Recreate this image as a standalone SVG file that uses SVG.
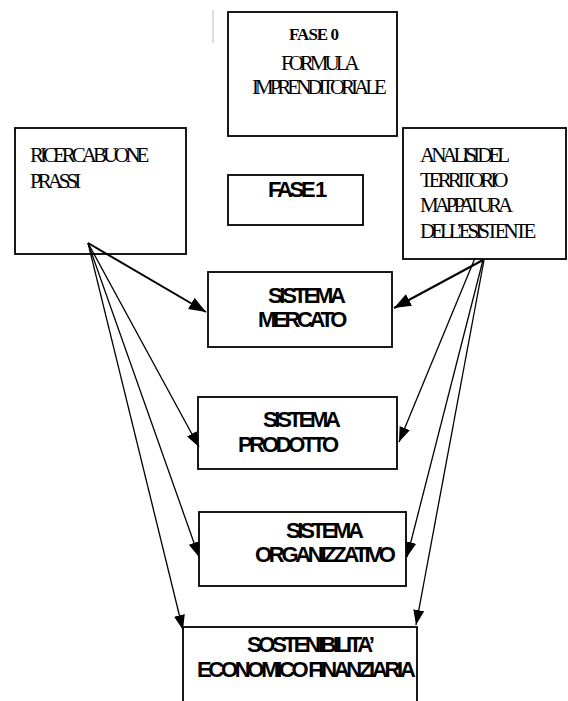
<svg xmlns="http://www.w3.org/2000/svg" width="568" height="701" viewBox="0 0 568 701">
<style>
.box{fill:#fff;stroke:#000;stroke-width:1.8}
.ser{font-family:"Liberation Serif","Times New Roman",serif;font-size:21px;fill:#000;letter-spacing:-4px}
.serb{font-family:"Liberation Serif","Times New Roman",serif;font-size:17px;font-weight:bold;fill:#000;letter-spacing:-1px}
.sans{font-family:"Liberation Sans",Arial,sans-serif;font-size:22px;font-weight:bold;fill:#000;letter-spacing:-3.3px}
.ln{fill:none;stroke:#000;stroke-width:1.3}
.lnb{fill:none;stroke:#000;stroke-width:2}
</style>
<defs>
<marker id="ah" viewBox="0 0 15 11" refX="15" refY="5.5" markerWidth="15" markerHeight="11" markerUnits="userSpaceOnUse" orient="auto">
<path d="M0,0 L15,5.5 L0,11 z" fill="#000"/>
</marker>
<marker id="ahb" viewBox="0 0 17 13" refX="17" refY="6.5" markerWidth="17" markerHeight="13" markerUnits="userSpaceOnUse" orient="auto">
<path d="M0,0 L17,6.5 L0,13 z" fill="#000"/>
</marker>
</defs>
<rect x="212" y="10" width="2" height="33" fill="#ddd"/>
<g id="fase0">
<rect class="box" x="228" y="12" width="169" height="124"/>
<text class="serb" x="289" y="40">FASE 0</text>
<text class="ser" x="281" y="70" letter-spacing="-4.4">FORMULA</text>
<text class="ser" x="252" y="94" letter-spacing="-4.35">IMPRENDITORIALE</text>
</g>
<g id="ricerca">
<rect class="box" x="15" y="128" width="171" height="126"/>
<text class="ser" x="30" y="162" letter-spacing="-4.1">RICERCA BUONE</text>
<text class="ser" x="30" y="188">PRASSI</text>
</g>
<g id="analisi">
<rect class="box" x="403" y="128" width="163" height="131"/>
<text class="ser" x="420" y="162" letter-spacing="-3.9">ANALISI DEL</text>
<text class="ser" x="420" y="187" letter-spacing="-3.9">TERRITORIO</text>
<text class="ser" x="420" y="212" letter-spacing="-4.6">MAPPATURA</text>
<text class="ser" x="420" y="238">DELL’ESISTENTE</text>
</g>
<g id="fase1">
<rect class="box" x="228" y="175" width="135" height="50"/>
<text class="sans" x="268" y="197" font-size="20" letter-spacing="-3.5">FASE 1</text>
</g>
<g id="mercato">
<rect class="box" x="208" y="272" width="184" height="75"/>
<text class="sans" x="268" y="303" letter-spacing="-3">SISTEMA</text>
<text class="sans" x="258" y="327" letter-spacing="-3.5">MERCATO</text>
</g>
<g id="prodotto">
<rect class="box" x="198" y="397" width="199" height="72"/>
<text class="sans" x="263" y="427" letter-spacing="-3">SISTEMA</text>
<text class="sans" x="238" y="452" letter-spacing="-3.5">PRODOTTO</text>
</g>
<g id="organizzativo">
<rect class="box" x="199" y="512" width="207" height="74"/>
<text class="sans" x="286" y="538" letter-spacing="-3">SISTEMA</text>
<text class="sans" x="255" y="562" letter-spacing="-3.5">ORGANIZZATIVO</text>
</g>
<g id="sostenibilita">
<rect class="box" x="183" y="627" width="234" height="90"/>
<text class="sans" x="247" y="652" letter-spacing="-3.1">SOSTENIBILITA’</text>
<text class="sans" x="197" y="677" letter-spacing="-3.2">ECONOMICO FINANZIARIA</text>
</g>
<g id="connectors">
<line class="lnb" x1="88" y1="243" x2="206" y2="312" marker-end="url(#ahb)"/>
<line class="ln" x1="88" y1="243" x2="199" y2="447" marker-end="url(#ah)"/>
<line class="ln" x1="88" y1="243" x2="199" y2="557" marker-end="url(#ah)"/>
<line class="ln" x1="88" y1="243" x2="183" y2="630" marker-end="url(#ah)"/>
<line class="lnb" x1="483" y1="260" x2="394" y2="308" marker-end="url(#ahb)"/>
<line class="ln" x1="475" y1="258" x2="399" y2="442" marker-end="url(#ah)"/>
<line class="ln" x1="483" y1="260" x2="407" y2="557" marker-end="url(#ah)"/>
<line class="ln" x1="484" y1="260" x2="416" y2="625" marker-end="url(#ah)"/>
</g>
</svg>
